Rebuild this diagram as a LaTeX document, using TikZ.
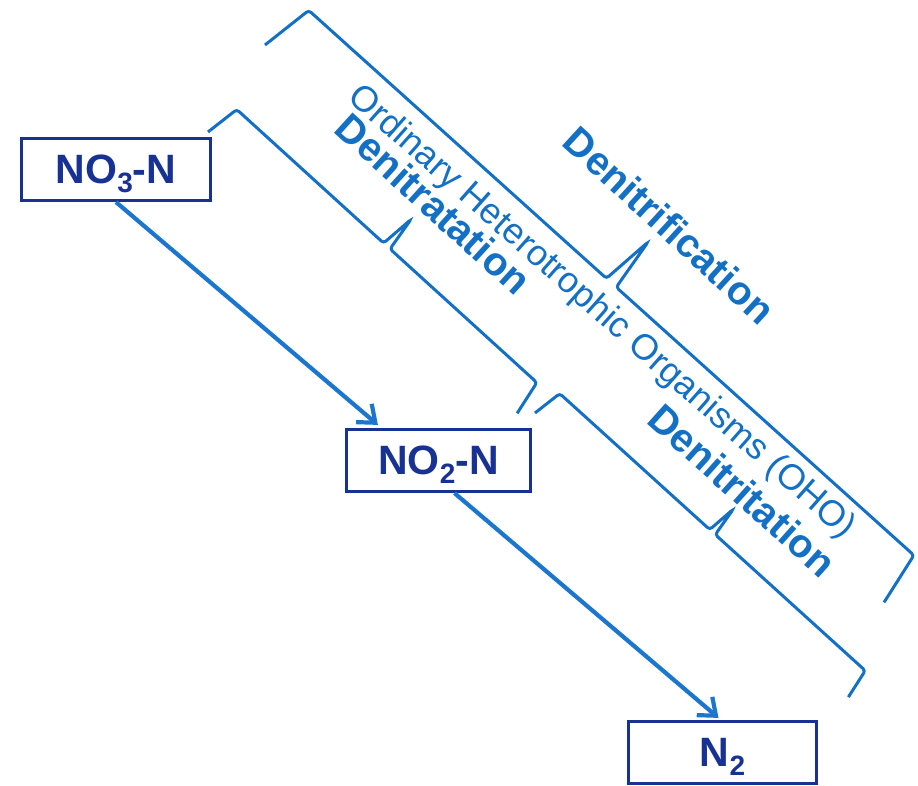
\documentclass[tikz,border=0pt]{standalone}
\usepackage{fontspec}
\setmainfont{Liberation Sans}
\usetikzlibrary{arrows.meta}
\definecolor{navy}{RGB}{24,50,148}
\definecolor{midblue}{RGB}{20,112,196}
\definecolor{arrowblue}{RGB}{28,118,206}
% lowered, smaller digit for chemical formulas
\newcommand\chemsub[1]{\raisebox{-9pt}{\fontsize{28}{28}\selectfont #1}}
% curly bracket of length #1 and depth #2, drawn along the local x axis
\newcommand\curly[2]{\draw[bracket] (0,0) -- ({0.17*#2},#2) -- ({#1/2-0.12*#2},#2) -- ({#1/2},{2*#2}) -- ({#1/2+0.12*#2},#2) -- ({#1-0.17*#2},#2) -- (#1,0);}
\begin{document}
\begin{tikzpicture}[x=1pt,y=1pt,
  species/.style={draw=navy, line width=3.2pt, text=navy,
    font=\fontsize{41}{41}\selectfont\bfseries, minimum height=62pt,
    inner sep=0pt, text height=29pt, text depth=0pt},
  flow/.style={draw=arrowblue, line width=4.2pt,
    -{Straight Barb[length=15pt,width=24pt,line width=4.2pt]}},
  bracket/.style={draw=midblue, line width=3pt, rounded corners=3pt},
  heading/.style={text=midblue, font=\fontsize{40}{40}\selectfont\bfseries,
    anchor=base, inner sep=0pt},
  organisms/.style={text=midblue, font=\fontsize{36}{36}\selectfont,
    anchor=base, inner sep=0pt}]
\useasboundingbox (0,0) rectangle (918,786);

% nitrogen species
\node[species, minimum width=189pt] (no3) at (116,616.5) {NO\chemsub{3}-N};
\node[species, minimum width=184pt] (no2) at (438.5,325.5) {NO\chemsub{2}-N};
\node[species, minimum width=188pt] (n2) at (722.5,33.5) {N\chemsub{2}};

% reduction steps
\draw[flow] (no3.south) -- ([xshift=33pt,yshift=3pt]no2.north west);
\draw[flow] ([xshift=16pt]no2.south) -- ([xshift=-4pt,yshift=2pt]n2.north);

% brackets grouping the steps
\begin{scope}[shift={(265,741)},rotate=-42]
  \curly{833}{55}
\end{scope}
\begin{scope}[shift={(208,654)},rotate=-42.3]
  \curly{418}{36}
\end{scope}
\begin{scope}[shift={(535,373)},rotate=-42.2]
  \curly{423}{31}
\end{scope}

% labels
\node[organisms, rotate=-41.5] (oho) at (595.1,466.3) {Ordinary Heterotrophic Organisms (OHO)};
\node[heading, rotate=-42.5] (dnf) at (659.9,550.3) {Denitrification};
\node[heading, rotate=-42.3] (dna) at (424,571.7) {Denitratation};
\node[heading, rotate=-41.8] (dni) at (733.1,285.1) {Denitritation};
\end{tikzpicture}
\end{document}
